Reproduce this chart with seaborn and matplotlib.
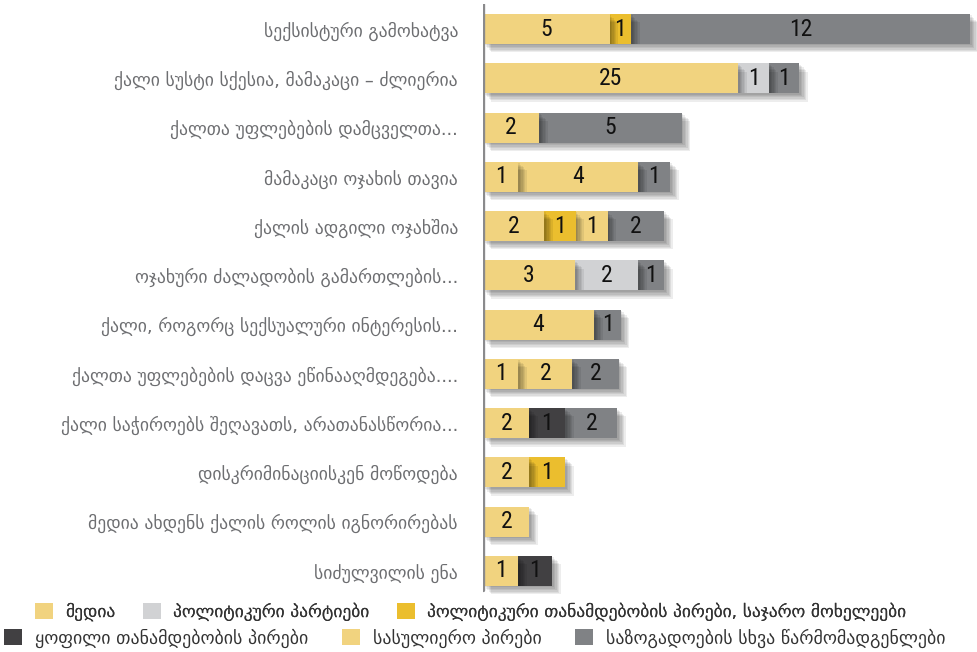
import matplotlib
matplotlib.use("Agg")
import matplotlib.pyplot as plt
import seaborn as sns
import pandas as pd
from matplotlib import patheffects as pe
from matplotlib import font_manager as fm
from matplotlib.patches import Patch

# ---------------- data ----------------
categories = [
    "სექსისტური გამოხატვა",
    "ქალი სუსტი სქესია, მამაკაცი – ძლიერია",
    "ქალთა უფლებების დამცველთა...",
    "მამაკაცი ოჯახის თავია",
    "ქალის ადგილი ოჯახშია",
    "ოჯახური ძალადობის გამართლების...",
    "ქალი, როგორც სექსუალური ინტერესის...",
    "ქალთა უფლებების დაცვა ეწინააღმდეგება....",
    "ქალი საჭიროებს შეღავათს, არათანასწორია...",
    "დისკრიმინაციისკენ მოწოდება",
    "მედია ახდენს ქალის როლის იგნორირებას",
    "სიძულვილის ენა",
]

series_names = [
    "მედია",
    "პოლიტიკური პარტიები",
    "პოლიტიკური თანამდებობის პირები, საჯარო მოხელეები",
    "ყოფილი თანამდებობის პირები",
    "სასულიერო პირები",
    "საზოგადოების სხვა წარმომადგენლები",
]
series_colors = ["#F1D37F", "#D1D2D4", "#EBBE2E", "#414042", "#F1D37F", "#808285"]

# printed counts on each segment
counts_media    = [5, 25, 2, 1, 2, 3, 4, 1, 2, 2, 2, 1]
counts_party    = [0, 1, 0, 0, 0, 2, 0, 0, 0, 0, 0, 0]
counts_official = [1, 0, 0, 0, 1, 0, 0, 0, 0, 1, 0, 0]
counts_former   = [0, 0, 0, 0, 0, 0, 0, 0, 1, 0, 0, 1]
counts_clergy   = [0, 0, 0, 4, 1, 0, 0, 2, 0, 0, 0, 0]
counts_society  = [12, 1, 5, 1, 2, 1, 1, 2, 2, 0, 0, 0]

# segment lengths as drawn in the reference (not strictly proportional to counts)
len_media    = [4.47, 9.02, 1.99, 1.25, 2.17, 3.26, 3.93, 1.25, 1.64, 1.64, 1.64, 1.25]
len_party    = [0, 1.10, 0, 0, 0, 2.23, 0, 0, 0, 0, 0, 0]
len_official = [0.77, 0, 0, 0, 1.10, 0, 0, 0, 0, 1.27, 0, 0]
len_former   = [0, 0, 0, 0, 0, 0, 0, 0, 1.27, 0, 0, 1.20]
len_clergy   = [0, 0, 0, 4.24, 1.13, 0, 0, 1.91, 0, 0, 0, 0]
len_society  = [11.98, 1.06, 5.04, 1.13, 2.01, 0.92, 0.95, 1.63, 1.84, 0, 0, 0]

all_counts = [counts_media, counts_party, counts_official, counts_former, counts_clergy, counts_society]
all_lengths = [len_media, len_party, len_official, len_former, len_clergy, len_society]

# ---------------- fonts ----------------
sns.set_theme(style="white")
avail = {f.name for f in fm.fontManager.ttflist}
num_font = next((f for f in ["Roboto Condensed", "Liberation Sans Narrow", "Roboto"] if f in avail), "DejaVu Sans")
plt.rcParams["font.family"] = ["DejaVu Sans"]

fig = plt.figure(figsize=(9.77, 6.52), dpi=100)
ax = fig.add_axes([483 / 977, 1 - 595.6 / 652, 494 / 977, 591.2 / 652])

shadow = [pe.SimplePatchShadow(offset=(d, -d), shadow_rgbFace="black", alpha=0.07)
          for d in (1, 2, 3, 4, 5, 6)] + [pe.Normal()]

left = [0.0] * len(categories)
nseries = len(series_names)
for k in range(nseries):
    df = pd.DataFrame({"cat": categories, "len": all_lengths[k]})
    before = len(ax.patches)
    sns.barplot(data=df, x="len", y="cat", order=categories, orient="h",
                color=series_colors[k], saturation=1, width=0.61, left=left,
                linewidth=0, errorbar=None, ax=ax)
    for p in ax.patches[before:]:
        p.set_zorder(10 + (nseries - k))
        p.set_path_effects(shadow)
    for i, (c, L) in enumerate(zip(all_counts[k], all_lengths[k])):
        if c > 0:
            ax.text(left[i] + L / 2, i, str(c), ha="center", va="center",
                    fontsize=17, color="#111111", family=num_font, zorder=30)
    left = [a + b for a, b in zip(left, all_lengths[k])]

ax.set_xlim(0, 494 / 28.3)
ax.set_xlabel("")
ax.set_ylabel("")
ax.set_xticks([])
for s in ax.spines.values():
    s.set_visible(False)
ax.axvline(0, ymin=0.0095, ymax=1.0, color="#8a8a8c", lw=2.4, zorder=40)
ax.tick_params(axis="y", length=0, pad=18, labelsize=12.7, labelcolor="#6d6e71")

# ---------------- legend (two rows) ----------------
handles = [Patch(facecolor=c, edgecolor="none") for c in series_colors]
leg1 = fig.legend(handles[:3], series_names[:3], loc="center", ncol=3, frameon=False,
                  bbox_to_anchor=(0.482, 1 - 612 / 652), fontsize=12.6, labelcolor="#333333",
                  handlelength=1.0, handleheight=1.0, handletextpad=0.7, columnspacing=1.6)
fig.add_artist(leg1)
leg2 = fig.legend(handles[3:], series_names[3:], loc="center", ncol=3, frameon=False,
                  bbox_to_anchor=(0.486, 1 - 638 / 652), fontsize=12.9, labelcolor="#333333",
                  handlelength=1.0, handleheight=1.0, handletextpad=0.7, columnspacing=1.9)

fig.savefig("out.png", dpi=100)
